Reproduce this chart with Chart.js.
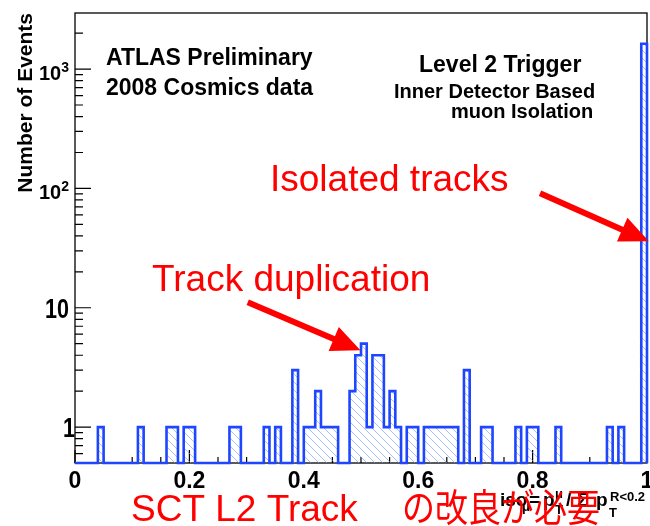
<!DOCTYPE html>
<html><head><meta charset="utf-8">
<script src="https://cdn.jsdelivr.net/npm/chart.js@4.4.1/dist/chart.umd.min.js"></script>
<style>html,body{margin:0;padding:0;background:#fff;overflow:hidden}canvas{display:block}</style>
</head><body>
<canvas id="c" width="650" height="526"></canvas>
<script>
// ---- data (100 bins of width 0.01 from 0 to 1) ----
const binWidth = 0.01;
const counts = [
  0,0,0,0,1,0,0,0,0,0,      // 0.00-0.09
  0,1,0,0,0,0,1,1,0,1,      // 0.10-0.19
  1,0,0,0,0,0,0,1,1,0,      // 0.20-0.29
  0,0,0,1,0,1,0,0,3,0,      // 0.30-0.39
  1,1,2,1,1,1,0,0,2,4,      // 0.40-0.49
  5,1,4,4,1,2,1,0,1,1,      // 0.50-0.59
  0,1,1,1,1,1,1,0,3,0,      // 0.60-0.69
  0,1,1,0,0,0,0,1,0,1,      // 0.70-0.79
  1,0,0,0,1,0,0,0,0,0,      // 0.80-0.89
  0,0,0,1,0,1,0,0,0,1630    // 0.90-0.99
];
const xTickValues = [0, 0.2, 0.4, 0.6, 0.8, 1];
const xTickLabels = ['0', '0.2', '0.4', '0.6', '0.8', '1'];
const yTickValues = [1, 10, 100, 1000];
const yTickBases  = ['1', '10', '10', '10'];
const yTickExps   = ['', '', '2', '3'];
const yMin = 0.5, yMax = 2950;
const xMin = 0, xMax = 1;

const SANS = '"Liberation Sans", Arial, Helvetica, sans-serif';
const CJK = '"Noto Sans CJK JP", "Noto Sans CJK SC", sans-serif';

// step outline points from bin edges
const points = [{x: xMin, y: yMin}];
counts.forEach((c, i) => points.push({x: xMin + i * binWidth, y: Math.max(c, yMin)}));
points.push({x: xMax, y: Math.max(counts[counts.length - 1], yMin)});
points.push({x: xMax, y: yMin});

// hatch pattern
function hatch() {
  const s = 8, cv = document.createElement('canvas');
  cv.width = s; cv.height = s;
  const g = cv.getContext('2d');
  g.strokeStyle = 'rgba(110,150,255,0.6)';
  g.lineWidth = 1;
  g.beginPath();
  g.moveTo(-1, -1); g.lineTo(s + 1, s + 1);
  g.moveTo(-1, s - 1); g.lineTo(1, s + 1);
  g.moveTo(s - 1, -1); g.lineTo(s + 1, 1);
  g.stroke();
  return g.createPattern(cv, 'repeat');
}

function arrow(ctx, x0, y0, x1, y1) {
  const dx = x1 - x0, dy = y1 - y0, L = Math.hypot(dx, dy);
  const ux = dx / L, uy = dy / L, hl = 29, hw = 13;
  const bx = x1 - ux * hl, by = y1 - uy * hl;
  ctx.beginPath();
  ctx.moveTo(x0, y0); ctx.lineTo(bx + ux * 2, by + uy * 2);
  ctx.stroke();
  ctx.beginPath();
  ctx.moveTo(x1, y1);
  ctx.lineTo(bx - uy * hw, by + ux * hw);
  ctx.lineTo(bx + uy * hw, by - ux * hw);
  ctx.closePath();
  ctx.fill();
}

const deco = {
  id: 'deco',
  beforeDraw(chart) {
    const ctx = chart.ctx;
    ctx.save(); ctx.fillStyle = '#fff'; ctx.fillRect(0, 0, chart.width, chart.height); ctx.restore();
  },
  beforeDatasetsDraw(chart) {
    const {ctx, chartArea: a, scales: {x, y}} = chart;
    ctx.save();
    ctx.strokeStyle = '#000';
    ctx.lineWidth = 1.3;
    ctx.strokeRect(a.left, a.top, a.right - a.left, a.bottom - a.top);
    ctx.lineWidth = 1.2;
    ctx.beginPath();
    // x ticks: every 0.05, major every 0.2
    for (let k = 0; k <= 20; k++) {
      const px = x.getPixelForValue(xMin + k * 0.05);
      const len = (k % 4 === 0) ? 13 : 6;
      ctx.moveTo(px, a.bottom); ctx.lineTo(px, a.bottom - len);
    }
    // y ticks (log)
    for (let d = -1; d <= 3; d++) {
      for (let m = 1; m <= 9; m++) {
        const v = m * Math.pow(10, d);
        if (v < yMin || v > yMax) continue;
        const py = y.getPixelForValue(v);
        const len = m === 1 ? 16 : 8;
        ctx.moveTo(a.left, py); ctx.lineTo(a.left + len, py);
      }
    }
    ctx.stroke();
    ctx.restore();
  },
  afterDraw(chart) {
    const {ctx, chartArea: a, scales: {x, y}} = chart;
    ctx.save();
    ctx.fillStyle = '#000';
    // x tick labels
    ctx.font = 'bold 23px ' + SANS;
    ctx.textAlign = 'center'; ctx.textBaseline = 'alphabetic';
    xTickValues.forEach((v, i) => ctx.fillText(xTickLabels[i], x.getPixelForValue(v), 488));
    // y tick labels
    yTickValues.forEach((v, i) => {
      const py = y.getPixelForValue(v);
      if (yTickExps[i]) {
        ctx.textAlign = 'right';
        ctx.font = 'bold 14px ' + SANS;
        ctx.fillText(yTickExps[i], 69, py + 3);
        const ew = ctx.measureText(yTickExps[i]).width;
        ctx.font = 'bold 20px ' + SANS;
        ctx.fillText(yTickBases[i], 69 - ew, py + 11);
      } else {
        ctx.save();
        const rx = yTickBases[i] === '1' ? 75 : 69;
        ctx.translate(rx, py + 10);
        ctx.scale(0.8, 1);
        ctx.textAlign = 'right';
        ctx.font = 'bold 27px ' + SANS;
        ctx.fillText(yTickBases[i], 0, 0);
        ctx.restore();
      }
    });
    // y title
    ctx.save();
    ctx.translate(32, 13);
    ctx.rotate(-Math.PI / 2);
    ctx.textAlign = 'right';
    ctx.font = 'bold 21px ' + SANS;
    ctx.fillText('Number of Events', 0, 0);
    ctx.restore();
    // x title (partly hidden under red note)
    ctx.textAlign = 'left';
    const B = 506;
    ctx.font = 'bold 19px ' + SANS; ctx.fillText('iso', 500, B);
    ctx.font = 'bold 13px ' + SANS; ctx.fillText('\u03bc', 522, B + 5);
    ctx.font = 'bold 19px ' + SANS; ctx.fillText('=', 529, B); ctx.fillText('p', 543, B);
    ctx.font = 'bold 13px ' + SANS; ctx.fillText('\u03bc', 555, B - 8); ctx.fillText('T', 555, B + 8);
    ctx.font = 'bold 19px ' + SANS; ctx.fillText('/', 566, B); ctx.fillText('\u03a3', 577, B); ctx.fillText('p', 596, B);
    ctx.font = 'bold 13px ' + SANS; ctx.fillText('T', 609, B + 11); ctx.fillText('R<0.2', 610, B - 5);
    // labels
    ctx.font = 'bold 23px ' + SANS;
    ctx.fillText('ATLAS Preliminary', 106, 65);
    ctx.fillText('2008 Cosmics data', 106, 95);
    ctx.fillText('Level 2 Trigger', 419, 72);
    ctx.font = 'bold 20px ' + SANS;
    ctx.fillText('Inner Detector Based', 394, 98);
    ctx.fillText('muon Isolation', 451, 118);
    // red annotations
    ctx.fillStyle = '#ff0000'; ctx.strokeStyle = '#ff0000';
    ctx.font = '37px ' + SANS;
    ctx.fillText('Isolated tracks', 270, 191);
    ctx.fillText('Track duplication', 152, 291);
    ctx.lineWidth = 6; ctx.lineCap = 'butt';
    arrow(ctx, x.getPixelForValue(0.813), y.getPixelForValue(91), x.getPixelForValue(1.003), y.getPixelForValue(36));
    arrow(ctx, x.getPixelForValue(0.302), y.getPixelForValue(11.1), x.getPixelForValue(0.499), y.getPixelForValue(4.4));
    ctx.font = '37px ' + SANS;
    ctx.fillText('SCT L2 Track', 131, 521);
    // Japanese part, fitted to its width in the reference
    const jp = '\u306e\u6539\u826f\u304c\u5fc5\u8981';
    ctx.font = '38px ' + CJK;
    const w = ctx.measureText(jp).width;
    ctx.save();
    ctx.translate(402, 521);
    ctx.scale(198 / w, 1);
    ctx.fillText(jp, 0, 0);
    ctx.restore();
    ctx.restore();
  }
};

new Chart(document.getElementById('c'), {
  type: 'line',
  data: {
    datasets: [{
      data: points,
      stepped: 'before',
      borderColor: '#1e46ff',
      borderWidth: 2.6,
      backgroundColor: hatch(),
      fill: 'start',
      pointRadius: 0,
      tension: 0,
      clip: false
    }]
  },
  options: {
    responsive: false,
    animation: false,
    devicePixelRatio: 1,
    layout: {padding: {left: 75, top: 13, right: 3, bottom: 63}},
    plugins: {legend: {display: false}, tooltip: {enabled: false}},
    scales: {
      x: {type: 'linear', min: xMin, max: xMax, display: false},
      y: {type: 'logarithmic', min: yMin, max: yMax, display: false}
    }
  },
  plugins: [deco]
});
</script>
</body></html>
